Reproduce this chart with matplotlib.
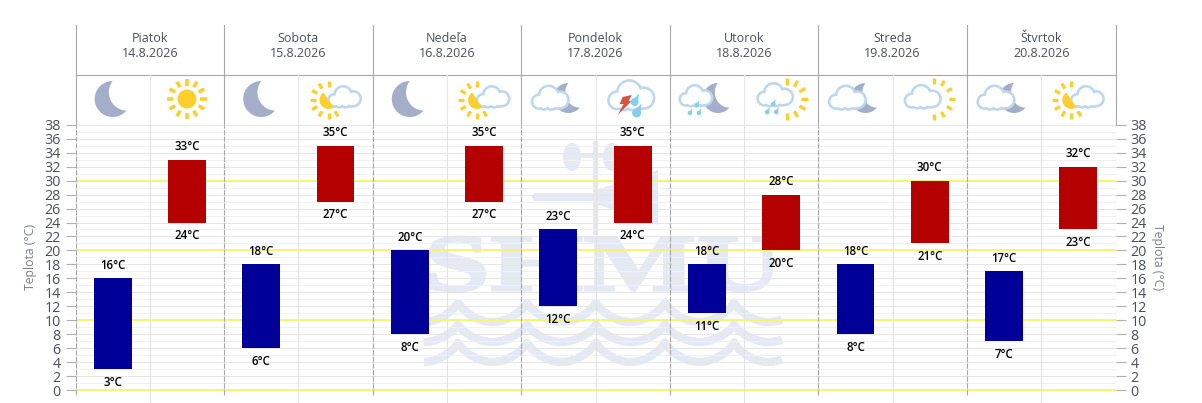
import numpy as np
import matplotlib
matplotlib.use("Agg")
import matplotlib.pyplot as plt
from matplotlib.patches import Circle, Wedge, Polygon, PathPatch, Ellipse
from matplotlib.textpath import TextPath
from matplotlib.font_manager import FontProperties
from matplotlib.transforms import Affine2D

plt.rcParams['font.family'] = ['Open Sans', 'DejaVu Sans']

days = ["Piatok", "Sobota", "Nedeľa", "Pondelok", "Utorok", "Streda", "Štvrtok"]
dates = ["14.8.2026", "15.8.2026", "16.8.2026", "17.8.2026", "18.8.2026", "19.8.2026", "20.8.2026"]
night_high = [16, 18, 20, 23, 18, 18, 17]
night_low = [3, 6, 8, 12, 11, 8, 7]
day_high = [33, 35, 35, 35, 28, 30, 32]
day_low = [24, 27, 27, 24, 20, 21, 23]
icons = ["moon", "sun", "moon", "suncloud", "moon", "suncloud", "cloudmoon", "storm",
         "rainmoon", "rainsun", "cloudmoon", "cloudsun", "cloudmoon", "suncloud"]
yticks = list(range(0, 39, 2))
yellow_lines = [0, 10, 20, 30]

W, H = 1202, 403
LEFT, RIGHT = 75.5, 1115.5
Y0, Y38 = 390, 124.8
BOTTOM = 403
COL = (RIGHT - LEFT) / 14

BLUE = "#000099"
RED = "#b50000"
GRID = "#e6e6e6"
GRID_MINOR = "#f1f1f1"
SEP = "#a8a8a8"
TXT = "#4a4f5c"
WM = "#e4e9f4"
CLOUD = "#bdd7ec"
SUN = "#fccf2e"
MOON = "#a4aec8"
DROP = "#86cdf0"

fig = plt.figure(figsize=(W / 100, H / 100), dpi=100)
fig.patch.set_facecolor("white")

# pixel overlay for header, icons and watermark
bg = fig.add_axes([0, 0, 1, 1], zorder=0)
bg.set_xlim(0, W)
bg.set_ylim(H, 0)
bg.axis("off")

# chart axes, y range runs a bit under zero like the original
deg = (Y0 - Y38) / 38
ymin = -(BOTTOM - Y0) / deg
ax = fig.add_axes([LEFT / W, 0, (RIGHT - LEFT) / W, (H - Y38) / H], zorder=2)
ax.patch.set_alpha(0)
ax.set_xlim(0, 14)
ax.set_ylim(ymin, 38)
for s in ax.spines.values():
    s.set_visible(False)


def watermark():
    fp = FontProperties(family="Liberation Serif", weight="bold")
    tp = TextPath((0, 0), "SHMU", size=100, prop=fp)
    b = tp.get_extents()
    tr = (Affine2D().translate(-b.x0, -b.y0)
          .scale(350 / b.width, -54 / b.height).translate(430, 291))
    bg.add_patch(PathPatch(tp.transformed(tr), fc=WM, ec=WM, lw=2, zorder=1))
    xs = np.linspace(424, 782, 500)
    for peak, depth in [(298, 20), (320, 18), (338, 20)]:
        ys = peak + 4 + depth * np.abs(np.sin((xs - 458) * np.pi / 69)) ** 0.7
        bg.plot(xs, ys, color=WM, lw=6, solid_capstyle="butt", zorder=1)
    # wind vane
    bg.plot([595, 595], [143, 232], color=WM, lw=3.6, zorder=1)
    bg.plot([566, 630], [155, 155], color=WM, lw=3.5, zorder=1)
    bg.add_patch(Ellipse((572, 157), 18, 28, fc=WM, ec="none", zorder=1))
    bg.add_patch(Ellipse((612, 157), 18, 28, fc=WM, ec="none", zorder=1))
    bg.plot([536, 596], [197, 197], color=WM, lw=6, solid_capstyle="round", zorder=1)
    bg.add_patch(Polygon([[596, 190], [658, 170], [658, 225], [596, 204]], fc=WM, ec="none", zorder=1))


def rays(cx, cy, r0, r1, angles, lw=2.4):
    for a in angles:
        c, s = np.cos(np.radians(a)), np.sin(np.radians(a))
        bg.plot([cx + r0 * c, cx + r1 * c], [cy + r0 * s, cy + r1 * s],
                color=SUN, lw=lw, solid_capstyle="butt", zorder=3)


def moon(cx, cy, r):
    # crescent from two arcs, y axis points down here
    t = np.radians(np.linspace(270, 40, 50))
    outer = np.c_[cx + r * np.cos(t), cy + r * np.sin(t)]
    c2 = np.array([cx + r * 0.83, cy - r * 0.33])
    a = outer[-1] - c2
    b = outer[0] - c2
    a0, a1 = np.arctan2(a[1], a[0]), np.arctan2(b[1], b[0])
    if a1 < a0:
        a1 += 2 * np.pi
    t2 = np.linspace(a0, a1, 40)
    rr = np.linspace(np.hypot(*a), np.hypot(*b), 40)
    inner = np.c_[c2[0] + rr * np.cos(t2), c2[1] + rr * np.sin(t2)]
    bg.add_patch(Polygon(np.r_[outer, inner], fc=MOON, ec="none", zorder=3))


def cloud(cx, cy, s=1.0, z=5):
    # outline made of edge circles, then white fill on top
    blobs = [(-14, 3, 8), (-3, -4, 11), (10, 1, 9.5), (0, 5, 7), (-8, 6, 6), (7, 5, 6)]
    for dx, dy, r in blobs:
        bg.add_patch(Circle((cx + s * dx, cy + s * dy), s * r + 1.3, fc=CLOUD, ec="none", zorder=z))
    for dx, dy, r in blobs:
        bg.add_patch(Circle((cx + s * dx, cy + s * dy), s * r - 1.3, fc="white", ec="none", zorder=z + 0.1))


def drop(cx, cy, r, col=DROP):
    bg.add_patch(Circle((cx, cy), r, fc=col, ec="none", zorder=7))
    bg.add_patch(Polygon([[cx - r, cy], [cx + r * 0.9, cy - r * 0.6], [cx + r * 1.1, cy - 2.1 * r]],
                         fc=col, ec="none", zorder=7))


def draw_icon(name, cx):
    cy = 100
    if name == "moon":
        moon(cx, cy - 1, 18)
    elif name == "sun":
        bg.add_patch(Circle((cx, cy - 1), 9.5, fc=SUN, ec="none", zorder=3))
        rays(cx, cy - 1, 13.5, 20, np.arange(0, 360, 30), 2.6)
    elif name == "suncloud":
        bg.add_patch(Wedge((cx - 7, cy), 9, 56, 236, fc=SUN, ec="none", zorder=6))
        rays(cx - 7, cy, 13, 19, np.arange(60, 271, 30))
        cloud(cx + 10, cy - 2, 0.78)
    elif name == "cloudmoon":
        moon(cx + 10, cy - 2, 15)
        cloud(cx - 7, cy - 1, 0.88)
    elif name == "storm":
        cloud(cx, cy - 3, 1.1)
        bg.add_patch(Polygon([[cx - 10, cy - 3], [cx - 1, cy - 5], [cx - 4, cy + 1], [cx - 1, cy + 1],
                              [cx - 15, cy + 15], [cx - 9, cy + 4], [cx - 13, cy + 4]],
                             fc="#d9533c", ec="none", zorder=7))
        drop(cx + 2, cy + 2, 4)
        drop(cx + 4, cy + 13, 4.5)
    elif name == "rainmoon":
        moon(cx + 11, cy - 2, 15)
        cloud(cx - 10, cy - 3, 0.78)
        for dx, dy in [(-17, 13), (-10, 5), (-8, 13)]:
            drop(cx + dx, cy + dy, 2.2)
    elif name == "rainsun":
        rays(cx + 6, cy - 1, 14, 21, np.arange(-90, 91, 30))
        cloud(cx - 5, cy - 4, 0.85)
        for dx, dy in [(-14, 12), (-8, 4), (-5, 12)]:
            drop(cx + dx, cy + dy, 2.3)
    elif name == "cloudsun":
        rays(cx + 4, cy - 1, 15, 21, np.arange(-90, 91, 30))
        cloud(cx - 6, cy - 2, 0.86)


watermark()

# header frame
bg.plot([LEFT, RIGHT], [75, 75], color=SEP, lw=0.8, zorder=2)
for i in range(8):
    x = LEFT + i * 2 * COL
    bg.plot([x, x], [25, Y38], color=SEP, lw=0.8, zorder=2)
for i in range(7):
    x = LEFT + (2 * i + 1) * COL
    bg.plot([x, x], [75, Y38], color="#e6e6e6", lw=0.8, zorder=2)
    bg.text(x, 38, days[i], ha="center", va="center", fontsize=9, color=TXT)
    bg.text(x, 53.5, dates[i], ha="center", va="center", fontsize=9, color=TXT)
for i, name in enumerate(icons):
    draw_icon(name, LEFT + (i + 0.5) * COL)

# grid
ax.hlines(np.arange(1, 38, 2), 0, 14, color=GRID_MINOR, lw=0.72, zorder=1)
ax.hlines(yticks, 0, 14, color=GRID, lw=0.72, zorder=1)
ax.hlines(yellow_lines, 0, 14, color="#f6f66e", lw=1.4, zorder=2)
ax.vlines(np.arange(1, 14, 2), ymin, 38, color="#e2e2e2", lw=0.8, zorder=1)
ax.vlines(np.arange(0, 15, 2), -0.7, 38, color=SEP, lw=0.8, linestyles=(0, (5, 1)), zorder=3)

# bars
xn = np.arange(7) * 2 + 0.5
xd = np.arange(7) * 2 + 1.5
nh, nl = np.array(night_high), np.array(night_low)
dh, dl = np.array(day_high), np.array(day_low)
ax.bar(xn, nh - nl, bottom=nl, width=0.51, color=BLUE, zorder=4)
ax.bar(xd, dh - dl, bottom=dl, width=0.51, color=RED, zorder=4)

for xs, hi, lo in [(xn, night_high, night_low), (xd, day_high, day_low)]:
    for x, a, b in zip(xs, hi, lo):
        ax.annotate(f"{a}°C", (x, a), xytext=(0, 13), textcoords="offset pixels", ha="center",
                    va="center", fontsize=8.3, fontweight="semibold", color="black", zorder=5)
        ax.annotate(f"{b}°C", (x, b), xytext=(0, -13), textcoords="offset pixels", ha="center",
                    va="center", fontsize=8.3, fontweight="semibold", color="black", zorder=5)

# y axes, left and right
ax.set_xticks([])
ax.set_yticks(yticks)
ax.tick_params(axis="y", length=7.2, width=0.8, color="#b0b0b0", labelcolor=TXT, labelsize=10.3, pad=3.5)
ax.set_ylabel("Teplota (°C)", color="#7a7f8c", fontsize=8.8)
label_y = (Y0 - 257 + (BOTTOM - Y0)) / (BOTTOM - Y38)
ax.yaxis.set_label_coords(-(LEFT - 37) / (RIGHT - LEFT), label_y)

ax2 = ax.twinx()
ax2.set_ylim(ymin, 38)
ax2.set_yticks(yticks)
ax2.tick_params(axis="y", length=7.2, width=0.8, color="#b0b0b0", labelcolor=TXT, labelsize=10.3, pad=3.5)
ax2.set_ylabel("Teplota (°C)", color="#7a7f8c", fontsize=8.8, rotation=270)
ax2.yaxis.set_label_coords(1 + (1164 - RIGHT) / (RIGHT - LEFT), label_y)
for s in ax2.spines.values():
    s.set_visible(False)

fig.savefig("out.png", dpi=100)
